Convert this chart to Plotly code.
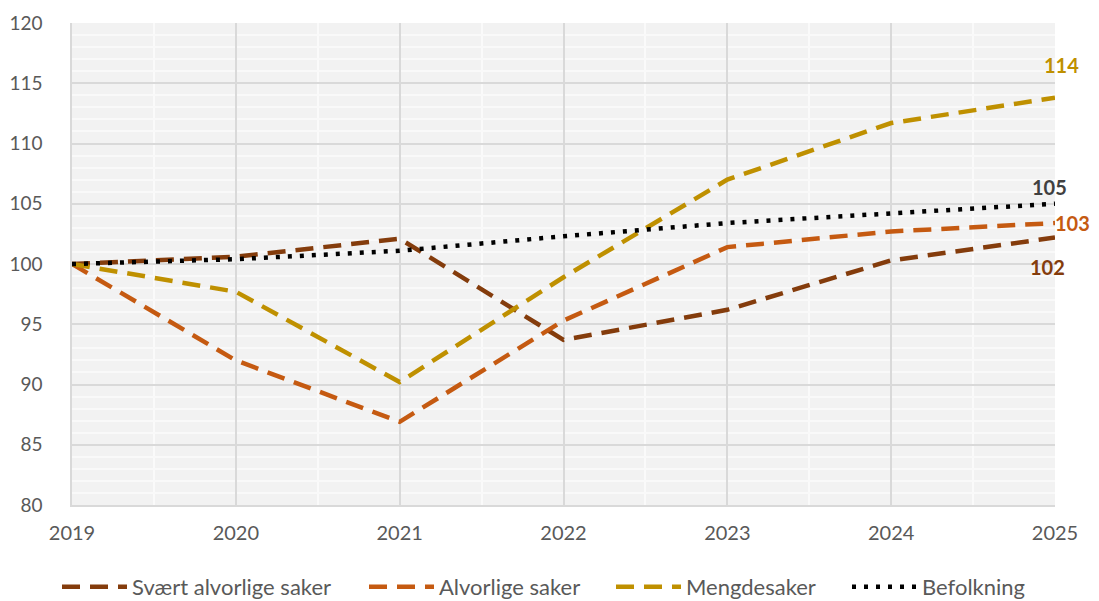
import plotly.graph_objects as go

years = [2019, 2020, 2021, 2022, 2023, 2024, 2025]
svaert = [100, 100.6, 102.1, 93.7, 96.2, 100.3, 102.2]
alvorlige = [100, 92.0, 86.9, 95.3, 101.4, 102.7, 103.4]
mengde = [100, 97.7, 90.2, 98.9, 107.0, 111.7, 113.8]
befolkning = [100, 100.4, 101.1, 102.3, 103.4, 104.2, 105.0]

series = [
    ("Svært alvorlige saker", svaert, "#843c0c", "dash", "legend"),
    ("Alvorlige saker", alvorlige, "#c55a11", "dash", "legend2"),
    ("Mengdesaker", mengde, "#bf9000", "dash", "legend3"),
    ("Befolkning", befolkning, "#000000", "dot", "legend4"),
]

W, H = 1091, 593
L, R, T, B = 64, 44, 15, 96
PW = W - L - R

fig = go.Figure()
for name, vals, col, dash, lg in series:
    fig.add_trace(go.Scatter(
        x=years, y=vals, name=name, mode="lines", cliponaxis=False, legend=lg,
        line=dict(color=col, width=4.5, dash="18px,10px" if dash == "dash" else "4px,8px"),
    ))

labels = [
    (mengde, "#bf9000", 6, 33),
    (befolkning, "#404040", -6, 17),
    (alvorlige, "#c55a11", 17, 0),
    (svaert, "#843c0c", -8, -30),
]
for vals, col, xs, ys in labels:
    fig.add_annotation(
        x=years[-1], y=vals[-1], text=f"<b>{round(vals[-1])}</b>",
        showarrow=False, xshift=xs, yshift=ys,
        font=dict(color=col, size=20, family="Lato"),
    )

# legend entry start pixels (screen)
leg_px = [63, 370, 617, 853]
leg_y = -0.17
legs = {}
for key, px in zip(["legend", "legend2", "legend3", "legend4"], leg_px):
    legs[key] = dict(
        x=(px - 8 - L - 6) / PW, xanchor="left", y=leg_y, yanchor="middle",
        orientation="h", font=dict(size=22, color="#595959"), itemwidth=65,
        bgcolor="rgba(0,0,0,0)",
    )

fig.update_layout(
    width=W, height=H,
    margin=dict(l=L, r=R, t=T, b=B, autoexpand=False),
    paper_bgcolor="white",
    plot_bgcolor="#f2f2f2",
    font=dict(family="Lato", size=20, color="#595959"),
    showlegend=True,
    **legs,
)
fig.update_xaxes(
    range=[2019, 2025], tickmode="array", tickvals=years, ticktext=[str(y) for y in years],
    showgrid=True, gridcolor="#d9d9d9", gridwidth=1.5,
    minor=dict(dtick=0.5, showgrid=True, gridcolor="#fafafa", gridwidth=1.5),
    showline=True, linecolor="#d9d9d9", linewidth=1.5, zeroline=False,
    ticks="", ticklabelstandoff=9,
)
fig.update_yaxes(
    range=[80, 120], dtick=5, tickfont=dict(size=19),
    showgrid=True, gridcolor="#d9d9d9", gridwidth=1.5,
    minor=dict(dtick=1, showgrid=True, gridcolor="#f9f9f9", gridwidth=2),
    showline=True, linecolor="#d9d9d9", linewidth=1.5, zeroline=False,
    ticks="", ticklabelstandoff=24,
)
fig.write_html("out.html")
